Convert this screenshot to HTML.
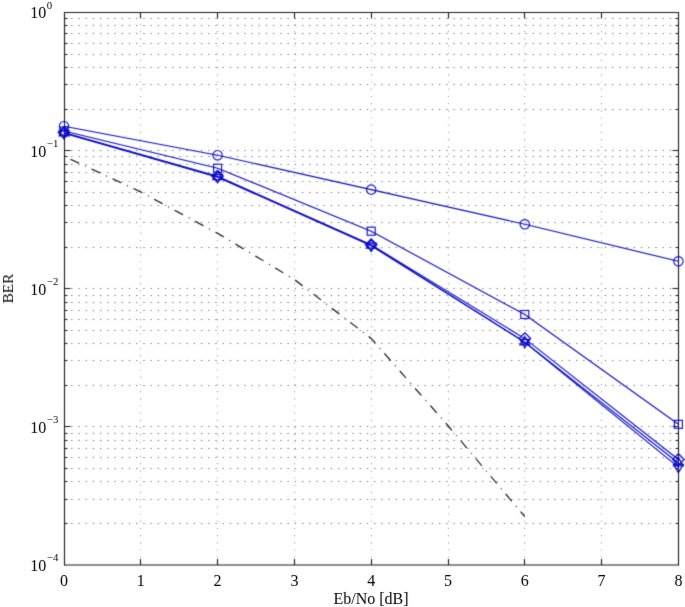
<!DOCTYPE html><html><head><meta charset="utf-8"><style>html,body{margin:0;padding:0;background:#fff;width:685px;height:607px;overflow:hidden}svg{display:block}text{font-family:"Liberation Serif",serif;fill:#000}</style></head><body>
<svg width="685" height="607" viewBox="0 0 685 607">
<defs><filter id="bl" x="0" y="0" width="685" height="607" filterUnits="userSpaceOnUse" color-interpolation-filters="sRGB"><feConvolveMatrix order="3" kernelMatrix="1 5 1 5 25 5 1 5 1" divisor="49" edgeMode="duplicate"/></filter><filter id="bt" x="0" y="0" width="685" height="607" filterUnits="userSpaceOnUse" color-interpolation-filters="sRGB"><feConvolveMatrix order="3" kernelMatrix="0 1 0 1 20 1 0 1 0" divisor="24" edgeMode="duplicate"/></filter></defs>
<g filter="url(#bl)">
<rect width="685" height="607" fill="#fff"/>
<path d="M140.5 565.0V12.5M217.5 565.0V12.5M294.5 565.0V12.5M371.5 565.0V12.5M448.5 565.0V12.5M524.5 565.0V12.5M601.5 565.0V12.5" stroke="#9a9a9a" stroke-width="1.1" stroke-dasharray="1.1 6.1" fill="none"/>
<path d="M64.0 150.5H678.5M64.0 109.5H678.5M64.0 84.5H678.5M64.0 67.5H678.5M64.0 54.5H678.5M64.0 43.5H678.5M64.0 33.5H678.5M64.0 25.5H678.5M64.0 18.5H678.5M64.0 288.5H678.5M64.0 247.5H678.5M64.0 222.5H678.5M64.0 205.5H678.5M64.0 192.5H678.5M64.0 181.5H678.5M64.0 172.5H678.5M64.0 164.5H678.5M64.0 156.5H678.5M64.0 426.5H678.5M64.0 385.5H678.5M64.0 360.5H678.5M64.0 343.5H678.5M64.0 330.5H678.5M64.0 319.5H678.5M64.0 310.5H678.5M64.0 302.5H678.5M64.0 295.5H678.5M64.0 523.5H678.5M64.0 499.5H678.5M64.0 481.5H678.5M64.0 468.5H678.5M64.0 457.5H678.5M64.0 448.5H678.5M64.0 440.5H678.5M64.0 433.5H678.5" stroke="#666" stroke-width="1.05" stroke-dasharray="1.2 6.012" fill="none"/>
<path d="M140.5 565.0v-6M140.5 12.5v6M217.5 565.0v-6M217.5 12.5v6M294.5 565.0v-6M294.5 12.5v6M371.5 565.0v-6M371.5 12.5v6M448.5 565.0v-6M448.5 12.5v6M524.5 565.0v-6M524.5 12.5v6M601.5 565.0v-6M601.5 12.5v6M64.5 150.5h6M678.5 150.5h-6M64.5 109.5h3M678.5 109.5h-3M64.5 84.5h3M678.5 84.5h-3M64.5 67.5h3M678.5 67.5h-3M64.5 54.5h3M678.5 54.5h-3M64.5 43.5h3M678.5 43.5h-3M64.5 33.5h3M678.5 33.5h-3M64.5 25.5h3M678.5 25.5h-3M64.5 18.5h3M678.5 18.5h-3M64.5 288.5h6M678.5 288.5h-6M64.5 247.5h3M678.5 247.5h-3M64.5 222.5h3M678.5 222.5h-3M64.5 205.5h3M678.5 205.5h-3M64.5 192.5h3M678.5 192.5h-3M64.5 181.5h3M678.5 181.5h-3M64.5 172.5h3M678.5 172.5h-3M64.5 164.5h3M678.5 164.5h-3M64.5 156.5h3M678.5 156.5h-3M64.5 426.5h6M678.5 426.5h-6M64.5 385.5h3M678.5 385.5h-3M64.5 360.5h3M678.5 360.5h-3M64.5 343.5h3M678.5 343.5h-3M64.5 330.5h3M678.5 330.5h-3M64.5 319.5h3M678.5 319.5h-3M64.5 310.5h3M678.5 310.5h-3M64.5 302.5h3M678.5 302.5h-3M64.5 295.5h3M678.5 295.5h-3M64.5 523.5h3M678.5 523.5h-3M64.5 499.5h3M678.5 499.5h-3M64.5 481.5h3M678.5 481.5h-3M64.5 468.5h3M678.5 468.5h-3M64.5 457.5h3M678.5 457.5h-3M64.5 448.5h3M678.5 448.5h-3M64.5 440.5h3M678.5 440.5h-3M64.5 433.5h3M678.5 433.5h-3" stroke="#1a1a1a" stroke-width="1.1" fill="none"/>
<path d="M64.5 12.5H678.5M64.5 12.0V565.5M678.5 12.0V565.5" stroke="#1a1a1a" stroke-width="1.1" fill="none"/>
<path d="M64.0 565.0H679.0" stroke="#1a1a1a" stroke-width="1.1" fill="none"/>
<path d="M64.00 156.10 L140.80 192.00 L217.60 233.30 L294.40 279.50 L371.20 338.50 L448.00 425.60 L524.80 516.70" stroke="#000" stroke-width="1.1" fill="none" stroke-dasharray="1 6.2 9.5 6.5" stroke-dashoffset="0"/>
<g stroke="#0a0ac8" stroke-width="1.12" fill="none">
<polyline points="64.00,126.20 217.60,155.20 371.20,189.60 524.80,224.30 678.40,261.30"/>
<g>
<circle cx="64.0" cy="126.2" r="4.7"/>
<circle cx="217.6" cy="155.2" r="4.7"/>
<circle cx="371.2" cy="189.6" r="4.7"/>
<circle cx="524.8" cy="224.3" r="4.7"/>
<circle cx="678.4" cy="261.3" r="4.7"/>
</g>
<polyline points="64.00,131.00 217.60,168.20 371.20,231.20 524.80,314.50 678.40,424.30"/>
<g>
<rect x="60.0" y="127.0" width="8.0" height="8.0"/>
<rect x="213.6" y="164.2" width="8.0" height="8.0"/>
<rect x="367.2" y="227.2" width="8.0" height="8.0"/>
<rect x="520.8" y="310.5" width="8.0" height="8.0"/>
<rect x="674.4" y="420.3" width="8.0" height="8.0"/>
</g>
<polyline points="64.00,132.50 217.60,176.20 371.20,244.80 524.80,338.60 678.40,459.50"/>
<g stroke-width="1.25">
<path d="M64.0 126.7L69.8 132.5L64.0 138.3L58.2 132.5Z"/>
<path d="M217.6 170.39999999999998L223.4 176.2L217.6 182.0L211.79999999999998 176.2Z"/>
<path d="M371.2 239.0L377.0 244.8L371.2 250.60000000000002L365.4 244.8Z"/>
<path d="M524.8 332.8L530.5999999999999 338.6L524.8 344.40000000000003L519.0 338.6Z"/>
<path d="M678.4 453.7L684.1999999999999 459.5L678.4 465.3L672.6 459.5Z"/>
</g>
<polyline points="64.00,133.00 217.60,176.80 371.20,245.30 524.80,342.10 678.40,463.00"/>
<g stroke-width="1.25">
<path d="M64.0 127.40L68.85 135.80L59.15 135.80Z"/>
<path d="M217.6 171.20L222.45 179.60L212.75 179.60Z"/>
<path d="M371.2 239.70L376.05 248.10L366.35 248.10Z"/>
<path d="M524.8 336.50L529.65 344.90L519.95 344.90Z"/>
<path d="M678.4 457.40L683.25 465.80L673.55 465.80Z"/>
</g>
<polyline points="64.00,133.30 217.60,177.20 371.20,245.80 524.80,342.20 678.40,467.10"/>
<g stroke-width="1.25">
<path d="M64.0 138.90L68.85 130.50L59.15 130.50Z"/>
<path d="M217.6 182.80L222.45 174.40L212.75 174.40Z"/>
<path d="M371.2 251.40L376.05 243.00L366.35 243.00Z"/>
<path d="M524.8 347.80L529.65 339.40L519.95 339.40Z"/>
<path d="M678.4 472.70L683.25 464.30L673.55 464.30Z"/>
</g>
<path d="M64.5 127V138"/>
</g>
</g><g filter="url(#bt)">
<text x="64.00" y="585.6" font-size="16" text-anchor="middle">0</text>
<text x="140.80" y="585.6" font-size="16" text-anchor="middle">1</text>
<text x="217.60" y="585.6" font-size="16" text-anchor="middle">2</text>
<text x="294.40" y="585.6" font-size="16" text-anchor="middle">3</text>
<text x="371.20" y="585.6" font-size="16" text-anchor="middle">4</text>
<text x="448.00" y="585.6" font-size="16" text-anchor="middle">5</text>
<text x="524.80" y="585.6" font-size="16" text-anchor="middle">6</text>
<text x="601.60" y="585.6" font-size="16" text-anchor="middle">7</text>
<text x="678.40" y="585.6" font-size="16" text-anchor="middle">8</text>
<text x="46.3" y="18.40" font-size="16" text-anchor="end">10</text>
<text x="46.8" y="8.70" font-size="10.8">0</text>
<text x="46.3" y="156.53" font-size="16" text-anchor="end">10</text>
<text x="46.8" y="146.83" font-size="10.8">−1</text>
<text x="46.3" y="294.65" font-size="16" text-anchor="end">10</text>
<text x="46.8" y="284.95" font-size="10.8">−2</text>
<text x="46.3" y="432.77" font-size="16" text-anchor="end">10</text>
<text x="46.8" y="423.07" font-size="10.8">−3</text>
<text x="46.3" y="570.90" font-size="16" text-anchor="end">10</text>
<text x="46.8" y="561.20" font-size="10.8">−4</text>
<text x="371" y="603.8" font-size="16" text-anchor="middle">Eb/No [dB]</text>
<text transform="translate(13.0 288.6) rotate(-90)" font-size="15.3" text-anchor="middle">BER</text>
</g></svg></body></html>
